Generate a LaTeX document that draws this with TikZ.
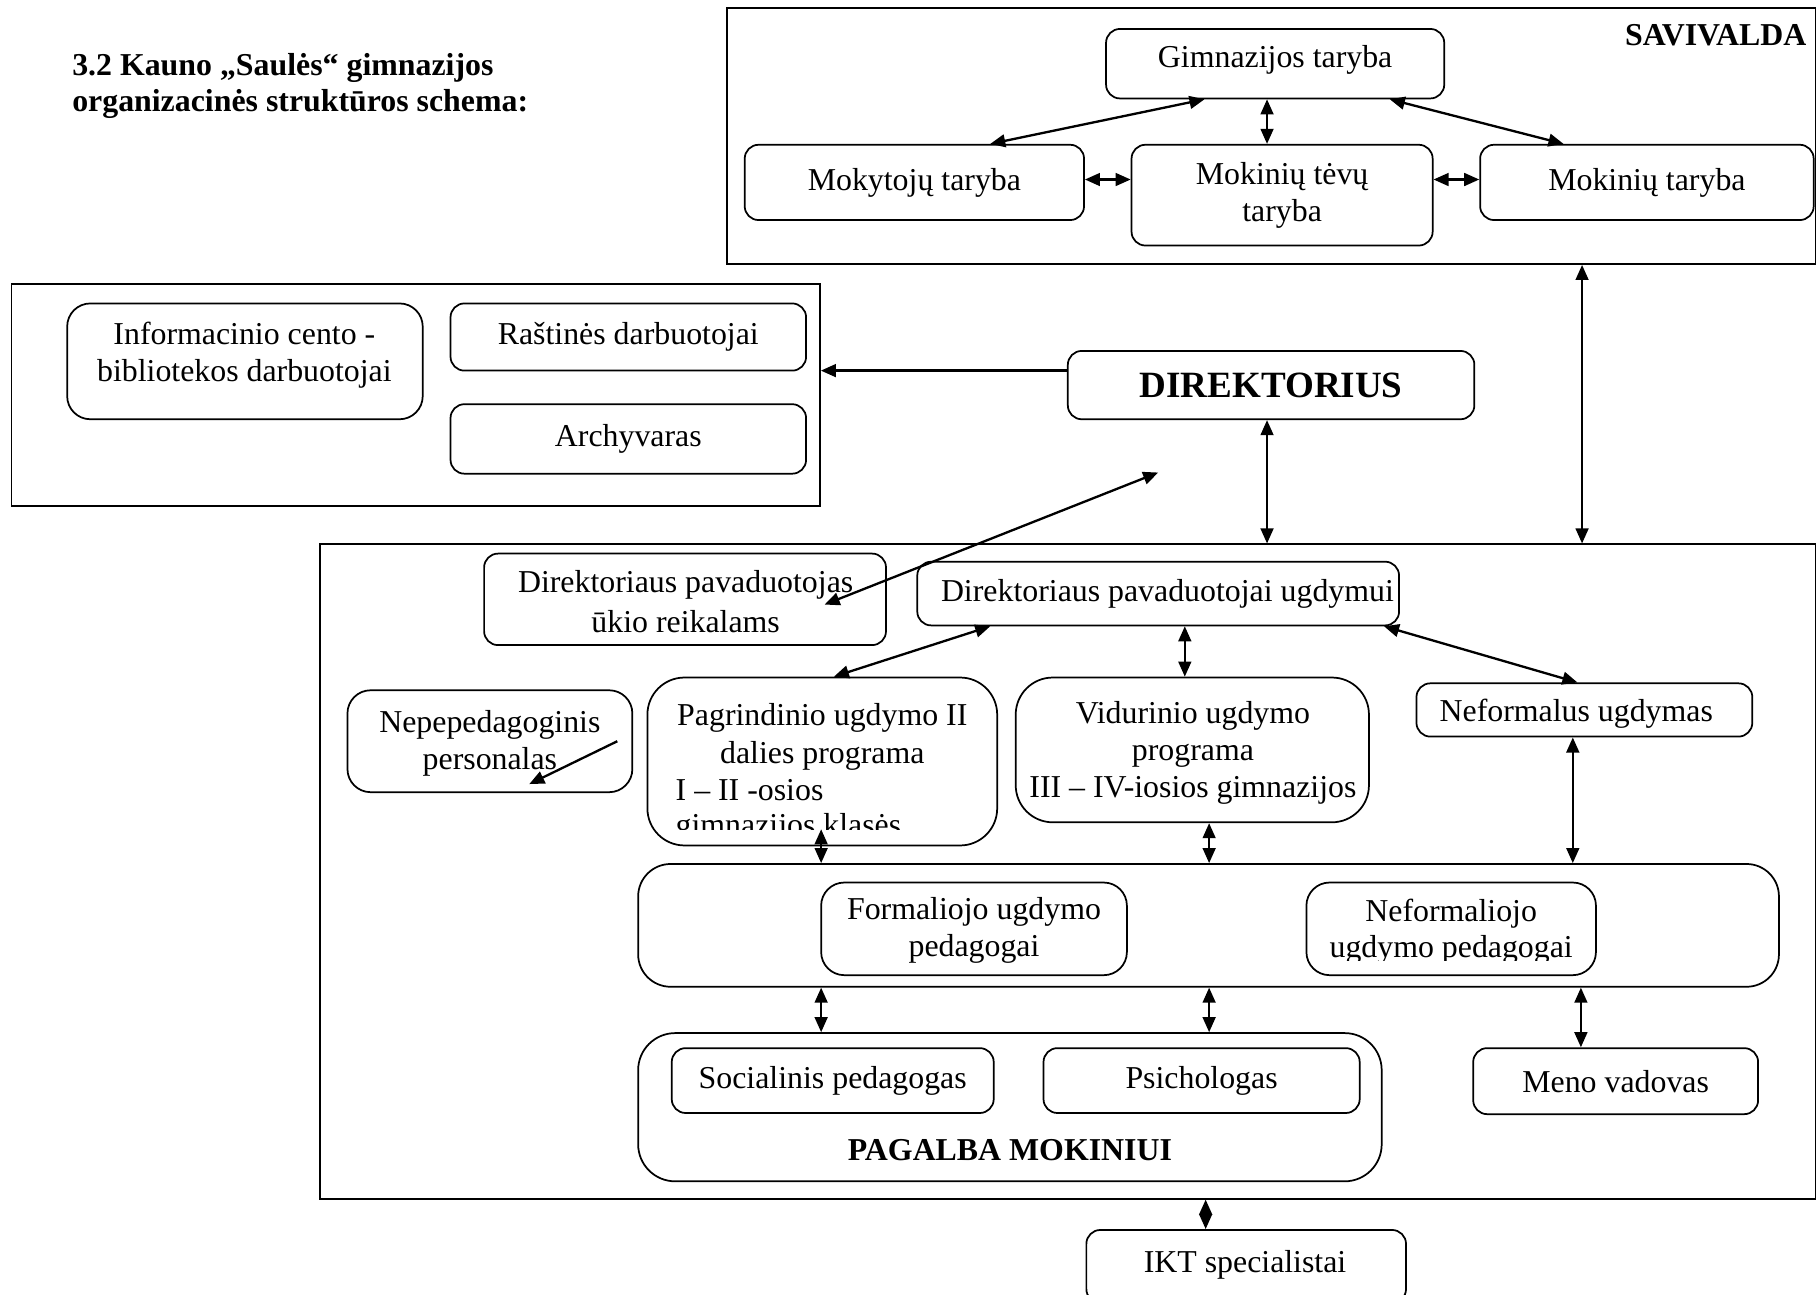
\documentclass[tikz,border=0pt]{standalone}
\usepackage{fontspec}
\setmainfont{Liberation Serif}
\usetikzlibrary{arrows.meta,fit,calc}
\newcommand\bxf{\fontsize{13.75}{16}\selectfont}
\begin{document}
\begin{tikzpicture}[x=0.5pt,y=-0.5pt,
 box/.style={draw, rounded corners=6pt, line width=0.75pt, inner sep=0pt},
 frame/.style={draw, line width=0.75pt, inner sep=0pt},
 txt/.style={inner sep=0pt, align=center, font=\bxf},
 btxt/.style={inner sep=0pt, font=\bxf\bfseries},
 arr/.style={{Triangle[length=6.5pt,width=5.5pt]}-{Triangle[length=6.5pt,width=5.5pt]}, line width=1pt},
 sarr/.style={-{Triangle[length=6.5pt,width=5.5pt]}, line width=1pt},
]
\useasboundingbox (0,0) rectangle (1568,1118);

% title
\node[btxt, anchor=base west] (t1) at (62,65) {3.2 Kauno „Saulės“ gimnazijos};
\node[btxt, anchor=base west] (t2) at (62,96) {organizacinės struktūros schema:};

% SAVIVALDA
\node[frame, fit={(628,7) (1568,228)}] (sav) {};
\node[btxt, anchor=base east] (svt) at (1560,39) {SAVIVALDA};
\node[box, fit={(955,25) (1247,85)}] (gim) {};
\node[txt] (gimt) at (1101,52) {Gimnazijos taryba};
\node[box, fit={(643,125) (936,190)}] (mky) {};
\node[txt] (mkyt) at (mky) {Mokytojų taryba};
\node[box, fit={(977,125) (1237,212)}] (tev) {};
\node[txt] (tevt) at (tev) {Mokinių tėvų\\taryba};
\node[box, fit={(1278,125) (1566,190)}] (mok) {};
\node[txt] (mokt) at (mok) {Mokinių taryba};
\draw[arr] (1040,0 |- gim.south) -- (855,0 |- mky.north);
\draw[arr] (1094,0 |- gim.south) -- (1094,0 |- tev.north);
\draw[arr] (1200,0 |- gim.south) -- (1350,0 |- mok.north);
\draw[arr] (mky.east |- 0,155) -- (tev.west |- 0,155);
\draw[arr] (tev.east |- 0,155) -- (mok.west |- 0,155);

% administration
\node[frame, fit={(10,245) (708,437)}] (adm) {};
\node[box, rounded corners=10pt, fit={(58,262) (365,362)}] (inf) {};
\node[txt] (inft) at (211,307) {Informacinio cento -\\bibliotekos darbuotojai};
\node[box, fit={(389,262) (696,320)}] (ras) {};
\node[txt] (rast) at (ras) {Raštinės darbuotojai};
\node[box, fit={(389,349) (696,409)}] (arc) {};
\node[txt] (arct) at (arc) {Archyvaras};

% director
\node[box, fit={(922,303) (1273,362)}] (dir) {};
\node[inner sep=0pt, font=\fontsize{16}{18}\selectfont\bfseries] (dirt) at (dir) {DIREKTORIUS};
\draw[sarr] (dir.west |- 0,320) -- (adm.east |- 0,320);

% pedagogical frame
\node[frame, fit={(276,470) (1568,1035)}] (ped) {};
\draw[arr] (1094,0 |- dir.south) -- (1094,0 |- ped.north);
\draw[arr] (1366,0 |- sav.south) -- (1366,0 |- ped.north);

\node[box, fit={(418,478) (765,557)}] (uk) {};
\node[txt, anchor=base] (ukt1) at (592,512) {Direktoriaus pavaduotojas};
\begin{scope}
\clip (418,520) rectangle (765,547);
\node[txt, anchor=base] (ukt2) at (592,546) {ūkio reikalams};
\end{scope}
\coordinate (dg1) at (1000,408);
\coordinate (dg2) at (712,522);
\draw[arr] (dg1) -- (dg2);

\node[box, fit={(792,485) (1208,540)}] (ugd) {};
\node[txt] (ugdt) at (1008,513) {Direktoriaus pavaduotojai ugdymui};

\node[box, rounded corners=10pt, fit={(300,596) (546,684)}] (nep) {};
\node[txt] (nept) at (423,642) {Nepepedagoginis\\personalas};
\coordinate (n1) at (533,640);
\coordinate (n2) at (457,677);
\draw[sarr] (n1) -- (n2);

\node[box, rounded corners=16pt, fit={(559,585) (861,730)}] (pag) {};
\node[txt, anchor=base] (pg1) at (710,626) {Pagrindinio ugdymo II};
\node[txt, anchor=base] (pg2) at (710,659) {dalies programa};
\node[txt, anchor=base west] (pg3) at (583,691) {I – II -osios};
\begin{scope}
\clip (560,700) rectangle (860,716);
\node[txt, anchor=base west] (pg4) at (583,721) {gimnazijos klasės};
\end{scope}

\node[box, rounded corners=16pt, fit={(877,585) (1182,710)}] (vid) {};
\node[txt] (vidt) at (1030,650) {Vidurinio ugdymo\\programa\\III – IV-iosios gimnazijos};

\node[box, fit={(1223,590) (1513,636)}] (nef) {};
\node[txt, anchor=base] (neft) at (1361,623) {Neformalus ugdymas};

\draw[arr] (855,0 |- ugd.south) -- (720,0 |- pag.north);
\draw[arr] (1023,0 |- ugd.south) -- (1023,0 |- vid.north);
\draw[arr] (1195,0 |- ugd.south) -- (1362,0 |- nef.north);

% teachers
\node[box, rounded corners=14pt, fit={(551,746) (1536,852)}] (mid) {};
\node[box, rounded corners=10pt, fit={(709,762) (973,842)}] (for) {};
\node[txt] (fort) at (841,803) {Formaliojo ugdymo\\pedagogai};
\node[box, rounded corners=10pt, fit={(1128,762) (1378,842)}] (nfp) {};
\node[txt, anchor=base] (nfp1) at (1253,796) {Neformaliojo};
\begin{scope}
\clip (1130,800) rectangle (1376,829);
\node[txt, anchor=base] (nfp2) at (1253,827) {ugdymo pedagogai};
\end{scope}

\coordinate (pa) at (709,716);
\draw[arr] (pa) -- (709,0 |- mid.north);
\draw[arr] (1044,0 |- vid.south) -- (1044,0 |- mid.north);
\draw[arr] (1358,0 |- nef.south) -- (1358,0 |- mid.north);

% support
\node[box, rounded corners=16pt, fit={(551,892) (1193,1020)}] (pgb) {};
\node[box, fit={(580,905) (858,961)}] (soc) {};
\node[txt] (soct) at (soc) {Socialinis pedagogas};
\node[box, fit={(901,905) (1174,961)}] (psi) {};
\node[txt] (psit) at (psi) {Psichologas};
\node[btxt, anchor=base] (pgt) at (872,1002) {PAGALBA MOKINIUI};
\node[box, fit={(1272,905) (1518,962)}] (men) {};
\node[txt] (ment) at (men) {Meno vadovas};

\draw[arr] (709,0 |- mid.south) -- (709,0 |- pgb.north);
\draw[arr] (1044,0 |- mid.south) -- (1044,0 |- pgb.north);
\draw[arr] (1365,0 |- mid.south) -- (1365,0 |- men.north);

% IKT
\node[box, fit={(938,1062) (1214,1125)}] (ikt) {};
\node[txt, anchor=base] (iktt) at (1075,1099) {IKT specialistai};
\draw[arr] (1041,0 |- ped.south) -- (1041,0 |- ikt.north);
\end{tikzpicture}
\end{document}
